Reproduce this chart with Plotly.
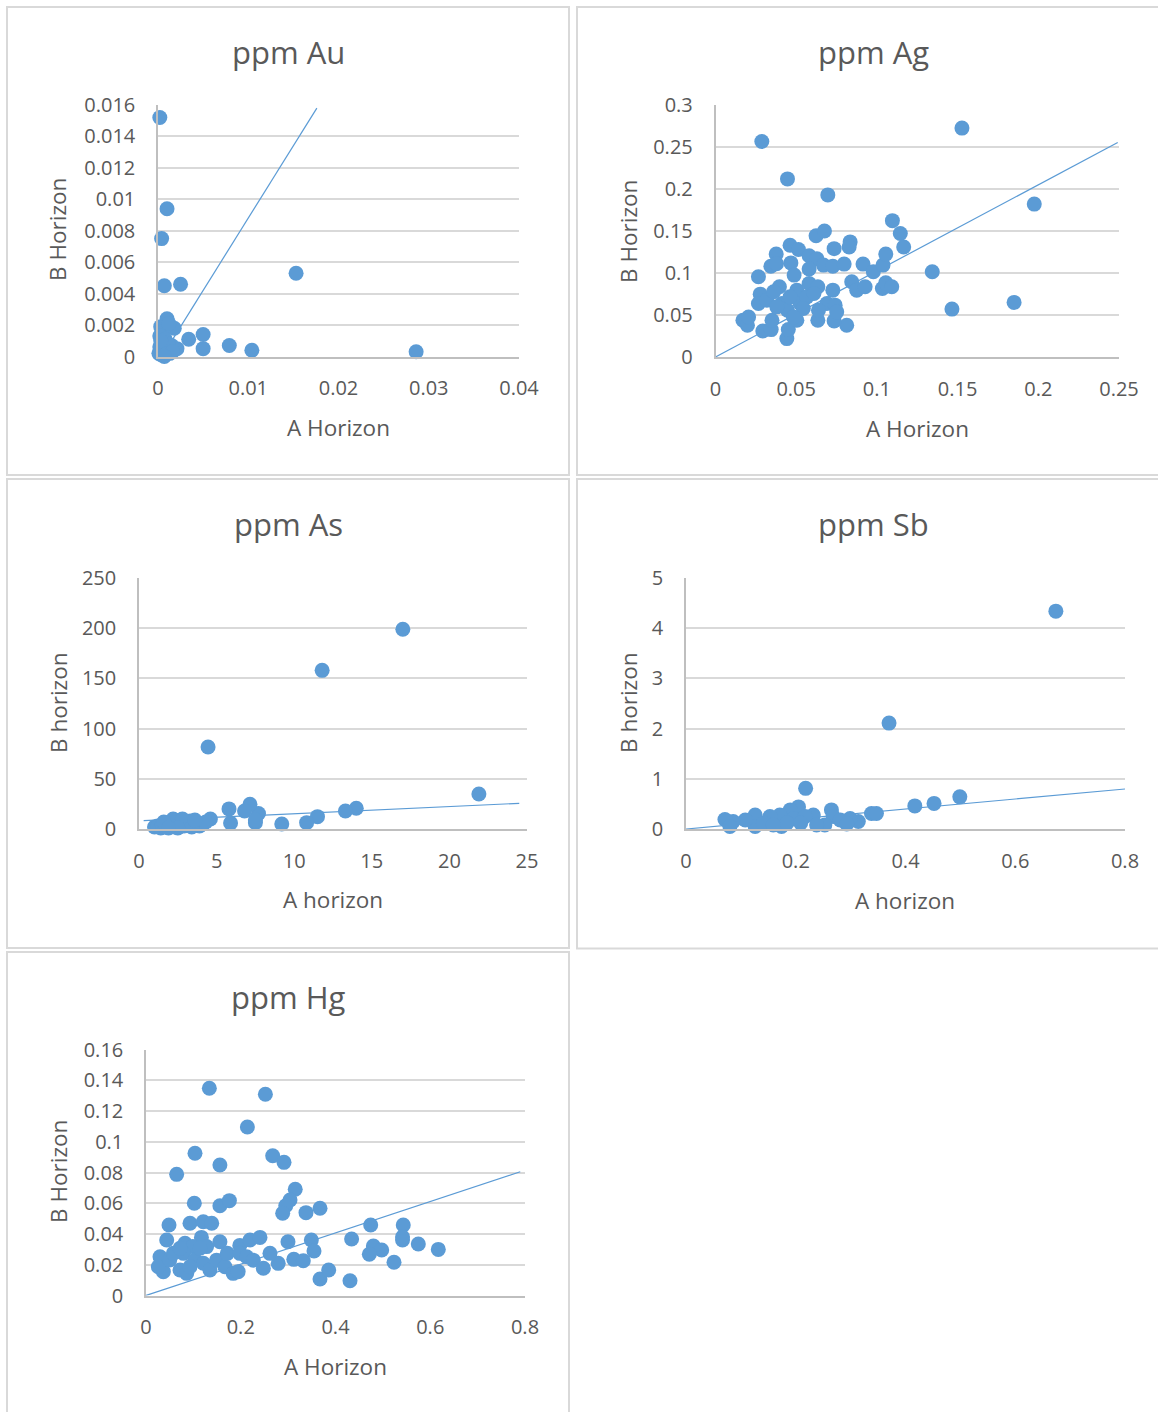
import plotly.graph_objects as go

# ---------------- DATA ----------------
au_a = [0.0002, 0.0010, 0.0004, 0.0007, 0.0025, 0.0153, 0.0286, 0.0104, 0.0079, 0.0050, 0.0050, 0.0034,
        0.0021, 0.0010, 0.0003, 0.0018, 0.0006, 0.0012, 0.0002, 0.0005, 0.0008, 0.0003, 0.0015, 0.0001,
        0.0004, 0.0009, 0.0013, 0.0002, 0.0006, 0.0011, 0.0016, 0.0003, 0.0007]
au_b = [0.0152, 0.0094, 0.0075, 0.0045, 0.0046, 0.0053, 0.0003, 0.0004, 0.0007, 0.0005, 0.0014, 0.0011,
        0.0005, 0.0024, 0.0019, 0.0018, 0.0016, 0.0021, 0.0013, 0.0009, 0.0011, 0.0005, 0.0007, 0.0002,
        0.0001, 0.0003, 0.0002, 0.0006, 0.0004, 0.0008, 0.0003, 0.0010, 0.0000]
au_line_a = [0.0005, 0.0176]
au_line_b = [0.00006, 0.0158]

ag_a = [0.0287, 0.1527, 0.0446, 0.0696, 0.1975, 0.1096, 0.1145, 0.1166, 0.1343, 0.1465, 0.1850,
        0.0623, 0.0675, 0.0834, 0.0828, 0.0735, 0.0462, 0.0514, 0.0376, 0.0343, 0.0378, 0.0467,
        0.0487, 0.0266, 0.0580, 0.0628, 0.0580, 0.0669, 0.0727, 0.0797, 0.0914, 0.0978, 0.1038,
        0.1055, 0.0844, 0.0875, 0.0927, 0.1034, 0.1055, 0.1092, 0.0727, 0.0813, 0.0735, 0.0634,
        0.0442, 0.0451, 0.0293, 0.0345, 0.0170, 0.0198, 0.0205, 0.0350, 0.0277, 0.0266, 0.0318,
        0.0396, 0.0360, 0.0411, 0.0446, 0.0504, 0.0524, 0.0504, 0.0580, 0.0634, 0.0566, 0.0610,
        0.0544, 0.0690, 0.0741, 0.0751, 0.0462, 0.0483, 0.0380, 0.0638]
ag_b = [0.2566, 0.2725, 0.2120, 0.1930, 0.1820, 0.1623, 0.1470, 0.1310, 0.1015, 0.0570, 0.0650,
        0.1444, 0.1500, 0.1370, 0.1310, 0.1290, 0.1330, 0.1280, 0.1225, 0.1080, 0.1110, 0.1120,
        0.0975, 0.0955, 0.1206, 0.1170, 0.1047, 0.1094, 0.1080, 0.1106, 0.1106, 0.1015, 0.1094,
        0.1225, 0.0895, 0.0796, 0.0836, 0.0816, 0.0883, 0.0836, 0.0796, 0.0378, 0.0430, 0.0438,
        0.0219, 0.0326, 0.0310, 0.0326, 0.0438, 0.0378, 0.0477, 0.0438, 0.0748, 0.0637, 0.0676,
        0.0836, 0.0776, 0.0637, 0.0557, 0.0796, 0.0637, 0.0438, 0.0875, 0.0836, 0.0716, 0.0756,
        0.0577, 0.0637, 0.0617, 0.0537, 0.0716, 0.0477, 0.0597, 0.0557]
ag_line_a = [0.0, 0.2492]
ag_line_b = [0.0, 0.2554]

as_a = [17.0, 11.8, 4.45, 21.9, 14.0, 13.3, 11.5, 10.8, 9.2, 7.7, 7.15, 6.8, 7.5, 5.8, 5.9, 4.6,
        7.5, 1.0, 1.2, 1.4, 1.5, 1.7, 1.8, 2.0, 2.1, 2.3, 2.4, 2.6, 2.7, 2.9, 3.0, 3.2, 3.3, 3.5,
        3.7, 3.9, 4.1, 4.3, 2.2, 2.8, 1.6, 3.4, 2.5, 1.9, 3.6]
as_b = [199.0, 158.0, 81.7, 34.9, 20.6, 18.0, 12.3, 6.3, 5.0, 15.5, 24.6, 18.0, 6.3, 20.0, 6.0, 10.0,
        9.0, 2.0, 3.0, 1.0, 4.0, 2.0, 5.0, 3.0, 6.0, 2.0, 8.0, 4.0, 9.0, 3.0, 6.0, 5.0, 8.0, 4.0,
        6.0, 3.0, 5.0, 7.0, 10.0, 10.0, 7.0, 2.0, 1.0, 1.0, 9.0]
as_line_a = [0.3, 24.5]
as_line_b = [8.3, 25.6]

sb_a = [0.674, 0.370, 0.218, 0.499, 0.452, 0.417, 0.338, 0.347, 0.314, 0.299, 0.265, 0.268, 0.253,
        0.232, 0.205, 0.190, 0.171, 0.174, 0.153, 0.126, 0.126, 0.108, 0.086, 0.071, 0.080, 0.141,
        0.196, 0.217, 0.238, 0.281, 0.293, 0.184, 0.159, 0.209]
sb_b = [4.34, 2.11, 0.81, 0.64, 0.51, 0.46, 0.31, 0.31, 0.15, 0.21, 0.38, 0.25, 0.08, 0.28, 0.44,
        0.38, 0.28, 0.05, 0.25, 0.28, 0.05, 0.18, 0.15, 0.19, 0.05, 0.12, 0.21, 0.25, 0.08, 0.18,
        0.10, 0.12, 0.08, 0.12]
sb_line_a = [0.0, 0.8]
sb_line_b = [0.0, 0.797]

hg_a = [0.1337, 0.2520, 0.2140, 0.1034, 0.0647, 0.1560, 0.2674, 0.2913, 0.3150, 0.3040, 0.2950,
        0.2885, 0.3377, 0.3673, 0.1020, 0.1560, 0.1760, 0.0486, 0.0929, 0.1210, 0.1387, 0.0437,
        0.1170, 0.1560, 0.0823, 0.0988, 0.1980, 0.2195, 0.2406, 0.2997, 0.3490, 0.3546, 0.3120,
        0.3320, 0.2790, 0.3673, 0.3856, 0.4306, 0.4340, 0.4743, 0.4800, 0.4975, 0.4714, 0.5235,
        0.5430, 0.5415, 0.5415, 0.5748, 0.6170, 0.0296, 0.0366, 0.0260, 0.0500, 0.0718, 0.0859,
        0.0792, 0.1034, 0.1210, 0.1350, 0.1490, 0.1667, 0.1840, 0.1945, 0.1716, 0.1980, 0.2125,
        0.2265, 0.2477, 0.2617, 0.0577, 0.0929, 0.1280, 0.1140, 0.0718]
hg_b = [0.1348, 0.1309, 0.1096, 0.0925, 0.0788, 0.0849, 0.0909, 0.0866, 0.0691, 0.0621, 0.0584,
        0.0535, 0.0539, 0.0567, 0.0600, 0.0584, 0.0617, 0.0459, 0.0470, 0.0480, 0.0470, 0.0361,
        0.0378, 0.0350, 0.0340, 0.0318, 0.0326, 0.0361, 0.0378, 0.0350, 0.0361, 0.0289, 0.0235,
        0.0226, 0.0209, 0.0107, 0.0166, 0.0096, 0.0367, 0.0459, 0.0322, 0.0296, 0.0268, 0.0216,
        0.0459, 0.0361, 0.0380, 0.0335, 0.0300, 0.0252, 0.0155, 0.0187, 0.0231, 0.0166, 0.0144,
        0.0274, 0.0231, 0.0210, 0.0166, 0.0230, 0.0187, 0.0144, 0.0155, 0.0274, 0.0274, 0.0252,
        0.0230, 0.0177, 0.0274, 0.0274, 0.0187, 0.0318, 0.0307, 0.0307]
hg_line_a = [0.0, 0.79]
hg_line_b = [0.0, 0.0805]

titles = ["ppm Au", "ppm Ag", "ppm As", "ppm Sb", "ppm Hg"]
x_titles = ["A Horizon", "A Horizon", "A horizon", "A horizon", "A Horizon"]
y_titles = ["B Horizon", "B Horizon", "B horizon", "B horizon", "B Horizon"]

au_xticks = [0, 0.01, 0.02, 0.03, 0.04]
au_xlabels = ["0", "0.01", "0.02", "0.03", "0.04"]
au_yticks = [0, 0.002, 0.004, 0.006, 0.008, 0.01, 0.012, 0.014, 0.016]
au_ylabels = ["0", "0.002", "0.004", "0.006", "0.008", "0.01", "0.012", "0.014", "0.016"]
ag_xticks = [0, 0.05, 0.1, 0.15, 0.2, 0.25]
ag_xlabels = ["0", "0.05", "0.1", "0.15", "0.2", "0.25"]
ag_yticks = [0, 0.05, 0.1, 0.15, 0.2, 0.25, 0.3]
ag_ylabels = ["0", "0.05", "0.1", "0.15", "0.2", "0.25", "0.3"]
as_xticks = [0, 5, 10, 15, 20, 25]
as_xlabels = ["0", "5", "10", "15", "20", "25"]
as_yticks = [0, 50, 100, 150, 200, 250]
as_ylabels = ["0", "50", "100", "150", "200", "250"]
sb_xticks = [0, 0.2, 0.4, 0.6, 0.8]
sb_xlabels = ["0", "0.2", "0.4", "0.6", "0.8"]
sb_yticks = [0, 1, 2, 3, 4, 5]
sb_ylabels = ["0", "1", "2", "3", "4", "5"]
hg_xticks = [0, 0.2, 0.4, 0.6, 0.8]
hg_xlabels = ["0", "0.2", "0.4", "0.6", "0.8"]
hg_yticks = [0, 0.02, 0.04, 0.06, 0.08, 0.1, 0.12, 0.14, 0.16]
hg_ylabels = ["0", "0.02", "0.04", "0.06", "0.08", "0.1", "0.12", "0.14", "0.16"]

# ---------------- LAYOUT ----------------
W, H = 1158, 1412
BLUE = "#5b9bd5"
TXT = "#595959"
FONT = "Open Sans"

def px(x):
    return x / W

def py(y):
    return 1 - y / H

# plot areas in pixels: (left, top, right, bottom)
areas = [(158, 105, 519, 356.5), (715.5, 105, 1119, 357), (139, 578, 527, 829),
         (686, 578, 1125, 829), (146, 1049.5, 525, 1295.5)]
# panel borders
panels = [(7, 7, 569, 475), (577, 7, 1170, 475), (7, 479, 569, 948),
          (577, 479, 1170, 948.5), (7, 952, 569, 1420)]
title_pos = [(288, 52), (873, 52), (288, 524), (873, 524), (288, 997)]
xt_pos = [(338, 427), (917, 428), (333, 899), (905, 900), (335, 1366)]
yt_pos = [(58, 230), (628, 232), (58, 703), (628, 703), (58, 1172)]

series = [
    (au_a, au_b, au_line_a, au_line_b, au_xticks, au_xlabels, au_yticks, au_ylabels),
    (ag_a, ag_b, ag_line_a, ag_line_b, ag_xticks, ag_xlabels, ag_yticks, ag_ylabels),
    (as_a, as_b, as_line_a, as_line_b, as_xticks, as_xlabels, as_yticks, as_ylabels),
    (sb_a, sb_b, sb_line_a, sb_line_b, sb_xticks, sb_xlabels, sb_yticks, sb_ylabels),
    (hg_a, hg_b, hg_line_a, hg_line_b, hg_xticks, hg_xlabels, hg_yticks, hg_ylabels),
]

fig = go.Figure()
layout = dict(width=W, height=H, margin=dict(l=0, r=0, t=0, b=0, pad=0, autoexpand=False),
              paper_bgcolor="white", plot_bgcolor="white", showlegend=False,
              font=dict(family=FONT, color=TXT), template="none")
annotations = []
shapes = []

for i, (xa, yb, la, lb, xtv, xtl, ytv, ytl) in enumerate(series):
    n = "" if i == 0 else str(i + 1)
    xref, yref = "x" + n, "y" + n
    fig.add_trace(go.Scatter(x=la, y=lb, mode="lines", line=dict(color=BLUE, width=1.2),
                             xaxis=xref, yaxis=yref, cliponaxis=False, hoverinfo="skip"))
    fig.add_trace(go.Scatter(x=xa, y=yb, mode="markers",
                             marker=dict(color=BLUE, size=15, line=dict(width=0)),
                             xaxis=xref, yaxis=yref, cliponaxis=False))
    l, t, r, b = areas[i]
    layout["xaxis" + n] = dict(domain=[px(l), px(r)], anchor=yref, range=[xtv[0], xtv[-1]],
                               tickmode="array", tickvals=xtv, ticktext=xtl, automargin=False,
                               showgrid=False, zeroline=False, showline=True,
                               linecolor="#bfbfbf", linewidth=1.5,
                               ticks="outside", ticklen=13, tickcolor="rgba(0,0,0,0)",
                               tickfont=dict(size=20, color=TXT, family=FONT))
    layout["yaxis" + n] = dict(domain=[py(b), py(t)], anchor=xref, range=[ytv[0], ytv[-1]],
                               tickmode="array", tickvals=ytv, ticktext=ytl, automargin=False,
                               showgrid=True, gridcolor="#d9d9d9", gridwidth=1.5,
                               zeroline=False, showline=True,
                               linecolor="#bfbfbf", linewidth=1.5,
                               ticks="outside", ticklen=17, tickcolor="rgba(0,0,0,0)",
                               tickfont=dict(size=20, color=TXT, family=FONT))
    pl, pt, pr, pb = panels[i]
    shapes.append(dict(type="rect", xref="paper", yref="paper",
                       x0=px(pl), x1=px(pr), y0=py(pb), y1=py(pt),
                       line=dict(color="#d9d9d9", width=2), fillcolor="rgba(0,0,0,0)", layer="below"))
    tx, ty = title_pos[i]
    annotations.append(dict(text=titles[i], x=px(tx), y=py(ty), xref="paper", yref="paper",
                            showarrow=False, xanchor="center", yanchor="middle",
                            font=dict(size=31, color=TXT, family=FONT)))
    ax_, ay_ = xt_pos[i]
    annotations.append(dict(text=x_titles[i], x=px(ax_), y=py(ay_), xref="paper", yref="paper",
                            showarrow=False, xanchor="center", yanchor="middle",
                            font=dict(size=22.5, color=TXT, family=FONT)))
    bx, by = yt_pos[i]
    annotations.append(dict(text=y_titles[i], x=px(bx), y=py(by), xref="paper", yref="paper",
                            showarrow=False, xanchor="center", yanchor="middle", textangle=-90,
                            font=dict(size=22.5, color=TXT, family=FONT)))

layout["annotations"] = annotations
layout["shapes"] = shapes
fig.update_layout(**layout)

post = ("document.documentElement.style.margin='0';document.documentElement.style.padding='0';"
        "document.documentElement.style.overflow='hidden';"
        "document.body.style.margin='0';document.body.style.padding='0';"
        "document.body.style.overflow='hidden';"
        "var d=document.getElementById('{plot_id}');"
        "d.style.position='absolute';d.style.left='0px';d.style.top='0px';")
fig.write_html("out.html", post_script=post, config={"displayModeBar": False})
